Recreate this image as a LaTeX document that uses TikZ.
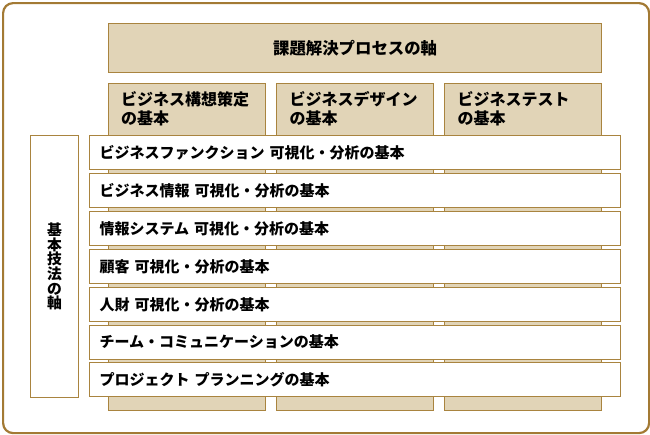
\documentclass[tikz,border=0pt]{standalone}
\usepackage{fontspec}
\setmainfont{Noto Sans CJK JP}
\definecolor{tan}{HTML}{E1D4B7}
\definecolor{edge}{HTML}{A9843F}
\definecolor{frame}{HTML}{A37A34}
\begin{document}
\begin{tikzpicture}[x=1pt,y=-1pt,
  tanbox/.style={draw=edge, fill=tan, line width=1.2pt, inner sep=0pt, anchor=north west},
  rowbox/.style={draw=edge, fill=white, line width=1.2pt, anchor=north west,
    minimum height=34pt, text width=511pt, inner xsep=10pt, inner ysep=0pt, align=left,
    font=\bfseries\fontsize{15pt}{18pt}\selectfont},
  coltext/.style={anchor=north west, inner sep=0pt, align=left,
    font=\bfseries\fontsize{16pt}{19pt}\selectfont},
  axisbox/.style={draw=edge, fill=white, line width=1.2pt, inner sep=0pt, anchor=north west}
]
\useasboundingbox (0,0) rectangle (650,434);
\node[draw=frame, line width=2.2pt, rounded corners=10pt, fill=white, anchor=north west,
  minimum width=646pt, minimum height=430pt, inner sep=0pt] (outer) at (2,2) {};
% top box
\node[tanbox, minimum width=493pt, minimum height=49pt,
  font=\bfseries\fontsize{16.4pt}{18pt}\selectfont, inner sep=0pt] (top) at (108,23) {課題解決プロセスの軸};
% columns
\node[tanbox, minimum width=157pt, minimum height=327pt] (col1) at (108,83) {};
\node[tanbox, minimum width=157pt, minimum height=327pt] (col2) at (276,83) {};
\node[tanbox, minimum width=157pt, minimum height=327pt] (col3) at (444,83) {};
\node[coltext] (c1t) at (121,91) {ビジネス構想策定\\の基本};
\node[coltext] (c2t) at (289.5,91) {ビジネスデザイン\\の基本};
\node[coltext] (c3t) at (457.5,91) {ビジネステスト\\の基本};
% rows
\node[rowbox] (r1) at (89,135) {ビジネスファンクション 可視化・分析の基本};
\node[rowbox] (r2) at (89,173) {ビジネス情報 可視化・分析の基本};
\node[rowbox] (r3) at (89,211) {情報システム 可視化・分析の基本};
\node[rowbox] (r4) at (89,249) {顧客 可視化・分析の基本};
\node[rowbox] (r5) at (89,287) {人財 可視化・分析の基本};
\node[rowbox] (r6) at (89,324.5) {チーム・コミュニケーションの基本};
\node[rowbox] (r7) at (89,362) {プロジェクト プランニングの基本};
% left axis
\node[axisbox, minimum width=48pt, minimum height=262pt] (axis) at (30,135) {};
\node[align=center, inner sep=0pt, font=\bfseries\fontsize{14.8pt}{14.6pt}\selectfont] (axist) at (axis.center) {基\\本\\技\\法\\の\\軸};
\end{tikzpicture}
\end{document}
